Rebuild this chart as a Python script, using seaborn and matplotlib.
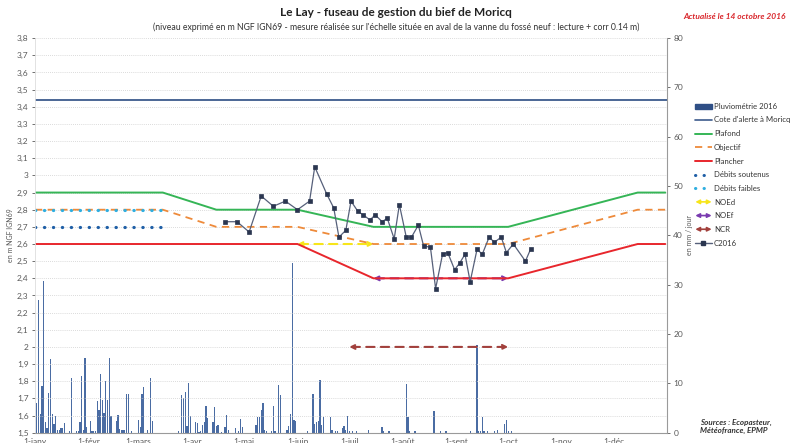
import numpy as np
import pandas as pd
import matplotlib
matplotlib.use("Agg")
import matplotlib.pyplot as plt
import matplotlib.dates as mdates
from matplotlib.ticker import FuncFormatter, MultipleLocator
from matplotlib.lines import Line2D
from matplotlib.patches import Patch, FancyArrowPatch
from matplotlib.legend_handler import HandlerBase
import seaborn as sns

# -----------------------------
# data
# -----------------------------
fuseau_dates = ["2016-01-01", "2016-03-15", "2016-04-15", "2016-06-01",
                "2016-07-15", "2016-10-01", "2016-12-15", "2016-12-31"]
plafond = [2.9, 2.9, 2.8, 2.8, 2.7, 2.7, 2.9, 2.9]
objectif = [2.8, 2.8, 2.7, 2.7, 2.6, 2.6, 2.8, 2.8]
plancher = [2.6, 2.6, 2.6, 2.6, 2.4, 2.4, 2.6, 2.6]

cote_alerte = 3.44
debits_dates = ["2016-01-01", "2016-03-15"]
debits_soutenus = [2.7, 2.7]
debits_faibles = [2.8, 2.8]

noed = (["2016-06-01", "2016-07-15"], 2.6)
noef = (["2016-07-15", "2016-10-01"], 2.4)
ncr = (["2016-07-01", "2016-10-01"], 2.0)

c2016_dates = ["2016-04-20", "2016-04-27", "2016-05-04", "2016-05-11", "2016-05-18",
               "2016-05-25", "2016-06-01", "2016-06-08", "2016-06-11", "2016-06-18",
               "2016-06-22", "2016-06-25", "2016-06-29", "2016-07-02", "2016-07-06",
               "2016-07-09", "2016-07-13", "2016-07-16", "2016-07-20", "2016-07-23",
               "2016-07-27", "2016-07-30", "2016-08-03", "2016-08-06", "2016-08-10",
               "2016-08-13", "2016-08-17", "2016-08-20", "2016-08-24", "2016-08-27",
               "2016-08-31", "2016-09-03", "2016-09-06", "2016-09-09", "2016-09-13",
               "2016-09-16", "2016-09-20", "2016-09-23", "2016-09-27", "2016-09-30",
               "2016-10-04", "2016-10-11", "2016-10-14"]
c2016 = [2.73, 2.73, 2.67, 2.88, 2.82, 2.85, 2.80, 2.85, 3.05, 2.89,
         2.81, 2.64, 2.68, 2.85, 2.79, 2.77, 2.74, 2.77, 2.73, 2.75,
         2.63, 2.83, 2.64, 2.64, 2.71, 2.59, 2.58, 2.34, 2.54, 2.55,
         2.45, 2.49, 2.54, 2.38, 2.57, 2.54, 2.64, 2.61, 2.64, 2.55,
         2.60, 2.50, 2.57]

pluie_dates = ["2016-01-02", "2016-01-03", "2016-01-04", "2016-01-05", "2016-01-06",
               "2016-01-07", "2016-01-08", "2016-01-09", "2016-01-10", "2016-01-11",
               "2016-01-12", "2016-01-13", "2016-01-14", "2016-01-15", "2016-01-16",
               "2016-01-17", "2016-01-18", "2016-01-21", "2016-01-22", "2016-01-25",
               "2016-01-26", "2016-01-27", "2016-01-28", "2016-01-29", "2016-01-30",
               "2016-01-31", "2016-02-02", "2016-02-03", "2016-02-04", "2016-02-05",
               "2016-02-06", "2016-02-07", "2016-02-08", "2016-02-09", "2016-02-10",
               "2016-02-11", "2016-02-12", "2016-02-13", "2016-02-14", "2016-02-17",
               "2016-02-18", "2016-02-19", "2016-02-20", "2016-02-21", "2016-02-22",
               "2016-02-23", "2016-02-24", "2016-02-26", "2016-03-01", "2016-03-02",
               "2016-03-03", "2016-03-04", "2016-03-06", "2016-03-08", "2016-03-09",
               "2016-03-24", "2016-03-26", "2016-03-27", "2016-03-28", "2016-03-29",
               "2016-03-30", "2016-03-31", "2016-04-03", "2016-04-04", "2016-04-05",
               "2016-04-06", "2016-04-07", "2016-04-08", "2016-04-09", "2016-04-10",
               "2016-04-13", "2016-04-14", "2016-04-15", "2016-04-16", "2016-04-18",
               "2016-04-20", "2016-04-21", "2016-04-22", "2016-04-26", "2016-04-28",
               "2016-04-29", "2016-04-30", "2016-05-08", "2016-05-09", "2016-05-10",
               "2016-05-11", "2016-05-12", "2016-05-13", "2016-05-14", "2016-05-17",
               "2016-05-18", "2016-05-19", "2016-05-21", "2016-05-22", "2016-05-26",
               "2016-05-27", "2016-05-28", "2016-05-29", "2016-05-30", "2016-05-31",
               "2016-06-07", "2016-06-10", "2016-06-11", "2016-06-12", "2016-06-13",
               "2016-06-14", "2016-06-15", "2016-06-16", "2016-06-20", "2016-06-21",
               "2016-06-23", "2016-06-24", "2016-06-27", "2016-06-28", "2016-06-29",
               "2016-06-30", "2016-07-01", "2016-07-03", "2016-07-05", "2016-07-12",
               "2016-07-20", "2016-07-21", "2016-07-24", "2016-08-03", "2016-08-04",
               "2016-08-05", "2016-08-08", "2016-08-19", "2016-08-23", "2016-08-26",
               "2016-09-09", "2016-09-13", "2016-09-14", "2016-09-15", "2016-09-16",
               "2016-09-17", "2016-09-19", "2016-09-23", "2016-09-25", "2016-09-29",
               "2016-09-30", "2016-10-01", "2016-10-03"]
pluie_mm = [6.0, 26.9, 3.8, 9.5, 30.8, 2.2, 1.0, 8.0, 14.9, 3.8,
            1.7, 3.4, 0.5, 0.5, 0.9, 1.0, 1.9, 0.3, 11.0, 0.3,
            0.3, 2.2, 11.5, 0.5, 15.1, 1.2, 2.3, 0.3, 0.3, 0.3,
            6.4, 4.6, 11.9, 6.7, 4.0, 10.4, 6.6, 15.1, 3.4, 2.3,
            3.5, 0.7, 0.5, 0.5, 0.5, 7.8, 7.8, 0.3, 2.5, 1.2,
            7.8, 9.2, 0.5, 11.0, 2.4, 0.3, 7.6, 7.0, 8.3, 1.3,
            10.0, 3.4, 2.2, 2.0, 0.2, 0.3, 1.5, 2.2, 5.5, 2.9,
            2.2, 5.3, 1.3, 1.5, 0.2, 1.2, 3.6, 0.5, 1.0, 0.3,
            2.7, 1.2, 1.5, 3.2, 3.1, 4.6, 6.0, 0.5, 0.3, 0.3,
            5.5, 0.3, 9.7, 7.6, 0.5, 1.4, 3.8, 34.5, 2.5, 2.4,
            0.3, 7.8, 1.7, 2.1, 2.4, 10.7, 1.5, 3.2, 3.2, 0.5,
            0.3, 0.3, 1.0, 1.4, 0.5, 3.4, 0.3, 0.3, 0.3, 0.5,
            1.2, 0.3, 0.3, 9.8, 3.2, 0.3, 0.3, 4.4, 0.3, 0.3,
            0.3, 17.8, 0.3, 0.3, 3.2, 0.3, 0.3, 0.3, 0.5, 1.7,
            2.6, 0.3, 0.3]

mois_labels = ["1-janv", "1-févr", "1-mars", "1-avr", "1-mai", "1-juin",
               "1-juil", "1-août", "1-sept", "1-oct", "1-nov", "1-déc"]

# -----------------------------
# style
# -----------------------------
sns.set_theme(style="white")
plt.rcParams["font.family"] = ["Lato", "DejaVu Sans"]

C_PLAFOND = "#35b556"
C_OBJ = "#ee8a3a"
C_PLANCHER = "#e8262c"
C_ALERTE = "#3d5b8c"
C_PLUIE = "#4a6ca3"
C_SOUT = "#1f5fa6"
C_FAIB = "#2eaee0"
C_NOED = "#f7e51a"
C_NOEF = "#7a3bb0"
C_NCR = "#a2403c"
C_C2016 = "#56607a"
C_MARK = "#2b3650"
GRIS = "#595959"

fig = plt.figure(figsize=(7.92, 4.43), dpi=100)
ax = fig.add_axes([0.0442, 0.0233, 0.798, 0.8905])
ax2 = ax.twinx()

# pluviométrie (axe de droite)
pluie = pd.DataFrame({"date": pd.to_datetime(pluie_dates), "mm": pluie_mm})
ax2.bar(pluie["date"], pluie["mm"], width=0.75, color=C_PLUIE, linewidth=0)
ax2.set_ylim(0, 80)
ax2.yaxis.set_major_locator(MultipleLocator(10))

ax.set_zorder(ax2.get_zorder() + 1)
ax.patch.set_visible(False)

# fuseau
fus = pd.DataFrame({"date": pd.to_datetime(fuseau_dates), "plafond": plafond,
                    "objectif": objectif, "plancher": plancher})
ax.axhline(cote_alerte, color=C_ALERTE, lw=1.3)
sns.lineplot(data=fus, x="date", y="plafond", ax=ax, color=C_PLAFOND, lw=1.4)
sns.lineplot(data=fus, x="date", y="plancher", ax=ax, color=C_PLANCHER, lw=1.4)
ax.plot(fus["date"], fus["objectif"], color=C_OBJ, lw=1.3, ls=(0, (4, 3)))

deb = pd.DataFrame({"date": pd.to_datetime(debits_dates),
                    "sout": debits_soutenus, "faib": debits_faibles})
ax.plot(deb["date"], deb["sout"], color=C_SOUT, lw=2.3, ls=(0, (0.1, 2.7)),
        dash_capstyle="round")
ax.plot(deb["date"], deb["faib"], color=C_FAIB, lw=2.3, ls=(0, (0.1, 2.7)),
        dash_capstyle="round")

# fleches NOEd / NOEf / NCR
for (dd, lvl), col in [(noed, C_NOED), (noef, C_NOEF), (ncr, C_NCR)]:
    d0, d1 = mdates.date2num(pd.to_datetime(dd))
    arr = FancyArrowPatch((d0, lvl), (d1, lvl), arrowstyle="<|-|>",
                          mutation_scale=7, color=col, lw=1.5,
                          linestyle=(0, (4, 3)), shrinkA=0, shrinkB=0)
    ax.add_patch(arr)

# cote 2016
c = pd.DataFrame({"date": pd.to_datetime(c2016_dates), "niveau": c2016})
ax.plot(c["date"], c["niveau"], color=C_C2016, lw=0.9, marker="s",
        markersize=3.2, markerfacecolor=C_MARK, markeredgecolor=C_MARK,
        markeredgewidth=0.5)

# axes
ax.set_ylim(1.5, 3.8)
ax.set_xlim(pd.Timestamp("2016-01-01"), pd.Timestamp("2017-01-01"))
ax.yaxis.set_major_locator(MultipleLocator(0.1))
ax.yaxis.set_major_formatter(FuncFormatter(
    lambda v, p: (f"{v:.1f}".rstrip("0").rstrip(".")).replace(".", ",")))
ax.grid(axis="y", color="#cfcfcf", lw=0.6, ls=(0, (1, 1.5)))
ax.set_xticks(pd.date_range("2016-01-01", periods=12, freq="MS"))
ax.set_xticklabels(mois_labels)
ax.set_xlabel("")
ax.set_ylabel("en m NGF IGN69", fontsize=5, color=GRIS, labelpad=2)
ax2.set_ylabel("en mm / jour", fontsize=5, color=GRIS, labelpad=2)

for a in (ax, ax2):
    a.tick_params(axis="both", labelsize=6, colors=GRIS, length=2.5, width=0.6,
                  pad=2)
    for s in a.spines.values():
        s.set_visible(False)
ax.tick_params(axis="x", pad=1)
ax2.spines["right"].set_visible(True)
ax2.spines["right"].set_color("#9a9a9a")
ax2.spines["right"].set_linewidth(0.8)
ax.spines["bottom"].set_visible(True)
ax.spines["bottom"].set_color("#9a9a9a")
ax.spines["bottom"].set_linewidth(0.8)
ax.spines["left"].set_visible(True)
ax.spines["left"].set_color("#dddddd")
ax.spines["left"].set_linewidth(0.6)

# titres
fig.text(0.5, 0.972, "Le Lay - fuseau de gestion du bief de Moricq",
         ha="center", va="center", fontsize=8.5, fontweight="bold", color="#222222")
fig.text(0.5, 0.938, "(niveau exprimé en m NGF IGN69 - mesure réalisée sur l'échelle "
         "située en aval de la vanne du fossé neuf : lecture + corr 0.14 m)",
         ha="center", va="center", fontsize=6.2, color="#333333")
fig.text(0.928, 0.962, "Actualisé le 14 octobre 2016", ha="center", va="center",
         fontsize=6, color="#d9262b", fontstyle="italic", fontweight="bold")
fig.text(0.884, 0.055, "Sources : Ecopasteur,\nMétéofrance, EPMP", ha="left",
         va="top", fontsize=5.8, fontstyle="italic", fontweight="bold",
         color="#333333", linespacing=1.2)


# legende
class HandlerArrow(HandlerBase):
    def create_artists(self, legend, orig_handle, xdescent, ydescent, width,
                       height, fontsize, trans):
        y = height / 2 - ydescent
        a = FancyArrowPatch((-xdescent, y), (width - xdescent, y),
                            arrowstyle="<|-|>", mutation_scale=6,
                            color=orig_handle.get_color(), lw=1.2,
                            shrinkA=0, shrinkB=0, transform=trans)
        return [a]


handles = [
    Patch(color="#2f4f86"),
    Line2D([], [], color=C_ALERTE, lw=1.2),
    Line2D([], [], color=C_PLAFOND, lw=1.4),
    Line2D([], [], color=C_OBJ, lw=1.3, ls=(0, (4, 3))),
    Line2D([], [], color=C_PLANCHER, lw=1.4),
    Line2D([], [], color=C_SOUT, lw=2.2, ls=(0, (0.1, 2.7)), dash_capstyle="round"),
    Line2D([], [], color=C_FAIB, lw=2.2, ls=(0, (0.1, 2.7)), dash_capstyle="round"),
    Line2D([], [], color=C_NOED),
    Line2D([], [], color=C_NOEF),
    Line2D([], [], color=C_NCR),
    Line2D([], [], color=C_C2016, lw=1.0, marker="s", markersize=3,
           markerfacecolor=C_MARK, markeredgecolor=C_MARK),
]
labels = ["Pluviométrie 2016", "Cote d'alerte à Moricq", "Plafond", "Objectif",
          "Plancher", "Débits soutenus", "Débits faibles", "NOEd", "NOEf", "NCR",
          "C2016"]
hmap = {handles[7]: HandlerArrow(), handles[8]: HandlerArrow(),
        handles[9]: HandlerArrow()}
leg = fig.legend(handles, labels, loc="upper left", bbox_to_anchor=(0.874, 0.775),
                 frameon=False, fontsize=5.6, handlelength=2.1, handleheight=0.6,
                 handletextpad=0.3, labelspacing=0.86, handler_map=hmap,
                 borderaxespad=0)
for t in leg.get_texts():
    t.set_color("#333333")

fig.savefig("out.png", dpi=100)
